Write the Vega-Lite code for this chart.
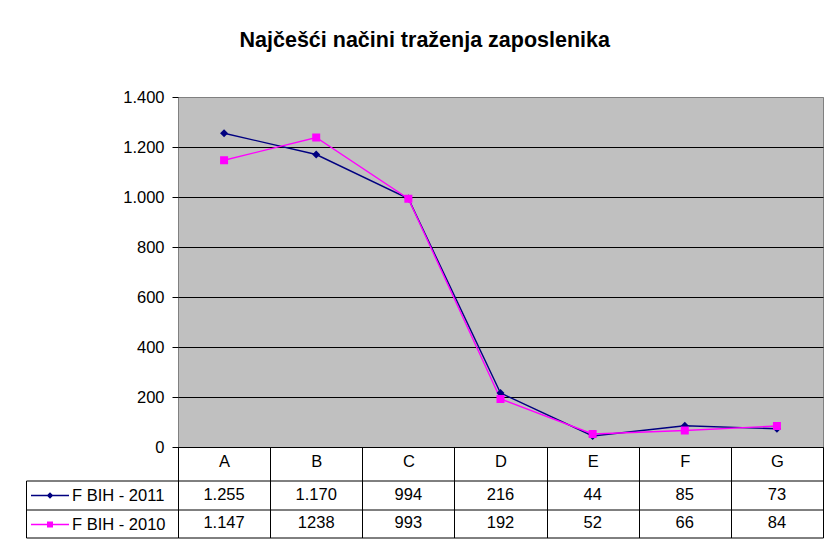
{
  "$schema": "https://vega.github.io/schema/vega-lite/v6.json",
  "padding": {"left": 25, "top": 30, "right": 2, "bottom": 9},
  "background": "white",
  "title": {
    "text": "Najčešći načini traženja zaposlenika",
    "font": "Liberation Sans",
    "fontSize": 21.5,
    "fontWeight": "bold",
    "color": "black",
    "anchor": "middle",
    "frame": "bounds",
    "offset": 37
  },
  "config": {
    "font": "Liberation Sans",
    "locale": {"number": {"decimal": ",", "thousands": ".", "grouping": [3], "currency": ["", ""]}},
    "view": {"stroke": null},
    "axis": {"labelFont": "Liberation Sans", "labelFontSize": 16.5, "labelColor": "black"}
  },
  "datasets": {
    "rows": [
      {"cat": "A", "series": "F BIH - 2011", "value": 1255, "label": "1.255"},
      {"cat": "B", "series": "F BIH - 2011", "value": 1170, "label": "1.170"},
      {"cat": "C", "series": "F BIH - 2011", "value": 994, "label": "994"},
      {"cat": "D", "series": "F BIH - 2011", "value": 216, "label": "216"},
      {"cat": "E", "series": "F BIH - 2011", "value": 44, "label": "44"},
      {"cat": "F", "series": "F BIH - 2011", "value": 85, "label": "85"},
      {"cat": "G", "series": "F BIH - 2011", "value": 73, "label": "73"},
      {"cat": "A", "series": "F BIH - 2010", "value": 1147, "label": "1.147"},
      {"cat": "B", "series": "F BIH - 2010", "value": 1238, "label": "1238"},
      {"cat": "C", "series": "F BIH - 2010", "value": 993, "label": "993"},
      {"cat": "D", "series": "F BIH - 2010", "value": 192, "label": "192"},
      {"cat": "E", "series": "F BIH - 2010", "value": 52, "label": "52"},
      {"cat": "F", "series": "F BIH - 2010", "value": 66, "label": "66"},
      {"cat": "G", "series": "F BIH - 2010", "value": 84, "label": "84"}
    ]
  },
  "bounds": "flush",
  "spacing": 33.5,
  "resolve": {
    "scale": {"x": "independent", "y": "independent", "color": "independent", "shape": "independent"},
    "legend": {"color": "independent", "shape": "independent"}
  },
  "vconcat": [
    {
      "width": 645,
      "height": 350,
      "data": {"name": "rows"},
      "view": {"fill": "#c0c0c0", "stroke": "#808080", "strokeWidth": 1},
      "encoding": {
        "x": {
          "field": "cat", "type": "nominal",
          "scale": {"paddingInner": 0, "paddingOuter": 0},
          "axis": {
            "title": null, "orient": "bottom", "domain": true, "domainColor": "black",
            "ticks": true, "tickBand": "extent", "tickSize": 33.5, "tickColor": "black",
            "labelAngle": 0, "labelBaseline": "middle", "labelPadding": -19, "grid": false
          }
        },
        "y": {
          "field": "value", "type": "quantitative",
          "scale": {"domain": [0, 1400], "nice": false},
          "axis": {
            "title": null, "values": [0, 200, 400, 600, 800, 1000, 1200, 1400], "format": ",d",
            "domain": false, "grid": true,
            "gridColor": {"condition": {"test": "datum.value === 1400", "value": "#808080"}, "value": "black"},
            "gridWidth": 1, "ticks": true, "tickColor": "black", "tickSize": 6, "labelPadding": 8
          }
        },
        "color": {
          "field": "series", "type": "nominal",
          "scale": {"domain": ["F BIH - 2011", "F BIH - 2010"], "range": ["#000080", "#ff00ff"]},
          "legend": null
        }
      },
      "layer": [
        {"mark": {"type": "line", "strokeWidth": 1.4}},
        {
          "mark": {"type": "point", "filled": true, "opacity": 1, "size": 64},
          "encoding": {
            "shape": {
              "field": "series", "type": "nominal",
              "scale": {"domain": ["F BIH - 2011", "F BIH - 2010"], "range": ["diamond", "square"]},
              "legend": null
            }
          }
        }
      ]
    },
    {
      "width": 645,
      "height": 57,
      "data": {"name": "rows"},
      "encoding": {
        "x": {
          "field": "cat", "type": "nominal",
          "scale": {"paddingInner": 0, "paddingOuter": 0},
          "axis": {"title": null, "labels": false, "ticks": false, "domain": false, "grid": true, "tickBand": "extent", "gridColor": "black", "gridWidth": 1}
        },
        "y": {
          "field": "series", "type": "nominal",
          "scale": {"domain": ["F BIH - 2011", "F BIH - 2010"], "paddingInner": 0, "paddingOuter": 0},
          "axis": {
            "title": null, "labels": false, "domain": true, "domainColor": "black", "offset": 152,
            "ticks": true, "tickBand": "extent", "tickSize": -152, "tickColor": "black",
            "grid": true, "gridColor": "black", "gridWidth": 1
          }
        }
      },
      "layer": [
        {
          "mark": {"type": "text", "fontSize": 16.5, "font": "Liberation Sans", "baseline": "middle", "align": "center", "color": "black"},
          "encoding": {"text": {"field": "label"}}
        },
        {
          "mark": {"type": "point", "filled": true, "size": 0},
          "encoding": {
            "color": {
              "field": "series", "type": "nominal",
              "scale": {"domain": ["F BIH - 2011", "F BIH - 2010"], "range": ["#000080", "#ff00ff"]},
              "legend": {
                "title": null, "orient": "none", "legendX": -138, "legendY": 5, "padding": 0,
                "symbolSize": 400, "symbolOpacity": 1, "symbolStrokeWidth": 0,
                "labelFontSize": 16.5, "labelFont": "Liberation Sans", "labelColor": "black",
                "labelOffset": 12, "rowPadding": 10, "labelLimit": 300
              }
            },
            "shape": {
              "field": "series", "type": "nominal",
              "scale": {
                "domain": ["F BIH - 2011", "F BIH - 2010"],
                "range": [
                  "M-1.9,-0.07H1.9V0.07H-1.9Z M0,-0.33L0.33,0L0,0.33L-0.33,0Z",
                  "M-1.9,-0.07H1.9V0.07H-1.9Z M-0.3,-0.3H0.3V0.3H-0.3Z"
                ]
              },
              "legend": {
                "title": null, "orient": "none", "legendX": -138, "legendY": 5, "padding": 0,
                "symbolSize": 400, "symbolOpacity": 1, "symbolStrokeWidth": 0,
                "labelFontSize": 16.5, "labelFont": "Liberation Sans", "labelColor": "black",
                "labelOffset": 12, "rowPadding": 10, "labelLimit": 300
              }
            }
          }
        }
      ]
    }
  ]
}
